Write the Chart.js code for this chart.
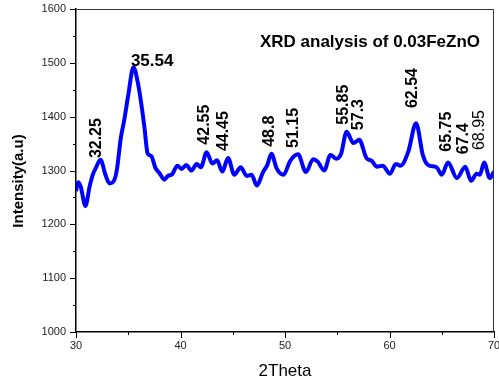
<!DOCTYPE html>
<html lang="es">
<head>
<meta charset="utf-8">
<title>XRD analysis of 0.03FeZnO</title>
<script src="https://cdn.jsdelivr.net/npm/chart.js@4.4.1/dist/chart.umd.min.js"></script>
<style>
    html, body { margin: 0; padding: 0; background: #fff; }
    #grafico { display: block; }
</style>
</head>
<body>
<canvas id="grafico" width="499" height="385"></canvas>
<script>
const THETA = [
    30.0, 30.2, 30.45, 30.9, 31.3, 31.6, 31.9, 32.35, 32.8, 33.2,
    33.6, 33.9, 34.3, 34.6, 35.0, 35.5, 35.9, 36.2, 36.55, 36.85,
    37.2, 37.6, 38.0, 38.45, 38.8, 39.2, 39.7, 40.1, 40.55, 41.05,
    41.55, 41.95, 42.5, 43.05, 43.5, 44.0, 44.55, 45.15, 45.75, 46.35,
    46.8, 47.3, 47.9, 48.3, 48.7, 49.2, 49.85, 50.5, 51.25, 52.0,
    52.7, 53.15, 53.75, 54.35, 54.9, 55.35, 55.9, 56.55, 57.1, 57.8,
    58.3, 58.8, 59.35, 60.05, 60.6, 61.05, 61.8, 62.54, 63.2, 63.7,
    64.5, 65.0, 65.6, 66.45, 67.25, 67.8, 68.35, 68.65, 69.05, 69.6,
    70.0
];

// Intensidad (a.u) para cada valor de 2Theta.
const INTENSIDAD = [
    1262, 1278, 1270, 1234, 1270, 1292, 1305, 1320, 1293, 1276,
    1280, 1300, 1362, 1392, 1440, 1492, 1465, 1430, 1380, 1332,
    1327, 1305, 1295, 1283, 1290, 1293, 1309, 1303, 1310, 1300,
    1312, 1306, 1334, 1313, 1319, 1298, 1323, 1292, 1306, 1290,
    1292, 1272, 1297, 1310, 1331, 1304, 1292, 1318, 1330, 1297,
    1321, 1316, 1300, 1329, 1322, 1330, 1372, 1351, 1357, 1323,
    1318, 1307, 1309, 1294, 1312, 1309, 1335, 1388, 1328, 1310,
    1306, 1292, 1315, 1286, 1307, 1281, 1294, 1292, 1315, 1286,
    1298
];

// Etiquetas verticales de los picos y la intensidad donde empieza cada texto.
const PICOS = ['32.25', '42.55', '44.45', '48.8', '51.15', '55.85', '57.3', '62.54', '65.75', '67.4', '68.95'];
const BASE_PICOS = [1323, 1348, 1336, 1344, 1342, 1385, 1375, 1416, 1335, 1330, 1338];

// Pico principal, con etiqueta horizontal.
const PICO_PRINCIPAL = '35.54';
const BASE_PRINCIPAL = 1494;

// Textos del gráfico.
const TITULO = 'XRD analysis of 0.03FeZnO';
const TITULO_X = '2Theta';
const TITULO_Y = 'Intensity(a.u)';
const ETIQUETA_FINA = '68.95';

const FUENTE = 'Arial, "Liberation Sans", sans-serif';

/*
*   Plugin para dibujar las marcas de los ejes, el marco y los textos de los picos.
*/
const anotaciones = {
    id: 'anotaciones',
    afterDraw(chart) {
        const { ctx, chartArea, scales: { x, y } } = chart;
        ctx.save();

        // Marco superior y derecho.
        ctx.strokeStyle = '#333';
        ctx.lineWidth = 1;
        ctx.beginPath();
        ctx.moveTo(chartArea.left, chartArea.top + 0.5);
        ctx.lineTo(chartArea.right - 0.5, chartArea.top + 0.5);
        ctx.lineTo(chartArea.right - 0.5, chartArea.bottom);
        ctx.stroke();

        // Marcas hacia afuera: largas en los valores con número, cortas en los intermedios.
        ctx.strokeStyle = '#000';
        ctx.beginPath();
        y.ticks.forEach(t => {
            const py = Math.round(y.getPixelForValue(t.value)) + 0.5;
            const largo = t.value % 100 === 0 ? 6 : 3;
            ctx.moveTo(chartArea.left - largo, py);
            ctx.lineTo(chartArea.left, py);
        });
        x.ticks.forEach(t => {
            const px = Math.round(x.getPixelForValue(t.value)) + 0.5;
            const largo = t.value % 10 === 0 ? 6 : 3;
            ctx.moveTo(px, chartArea.bottom);
            ctx.lineTo(px, chartArea.bottom + largo);
        });
        ctx.stroke();

        // Etiquetas verticales de los picos.
        ctx.fillStyle = '#000';
        ctx.textAlign = 'left';
        ctx.textBaseline = 'middle';
        PICOS.forEach((texto, i) => {
            const px = x.getPixelForValue(parseFloat(texto)) - 3;
            const py = y.getPixelForValue(BASE_PICOS[i]);
            ctx.save();
            ctx.translate(px, py);
            ctx.rotate(-Math.PI / 2);
            ctx.font = (texto === ETIQUETA_FINA ? '' : 'bold ') + '16px ' + FUENTE;
            ctx.fillText(texto, 0, 0);
            ctx.restore();
        });

        // Etiqueta horizontal del pico principal.
        ctx.font = 'bold 17px ' + FUENTE;
        ctx.textBaseline = 'alphabetic';
        ctx.fillText(PICO_PRINCIPAL, x.getPixelForValue(parseFloat(PICO_PRINCIPAL)) - 3, y.getPixelForValue(BASE_PRINCIPAL));

        // Título dentro del área del gráfico.
        ctx.textAlign = 'center';
        ctx.font = 'bold 17px ' + FUENTE;
        ctx.fillText(TITULO, chartArea.left + 294, chartArea.top + 38);

        // Título del eje Y.
        ctx.save();
        ctx.translate(19, chartArea.top + 172);
        ctx.rotate(-Math.PI / 2);
        ctx.textBaseline = 'middle';
        ctx.font = 'bold 15px ' + FUENTE;
        ctx.fillText(TITULO_Y, 0, 0);
        ctx.restore();

        ctx.restore();
    }
};

// Se crea el gráfico de línea con los datos del difractograma.
new Chart(document.getElementById('grafico'), {
    type: 'line',
    data: {
        datasets: [{
            data: THETA.map((t, i) => ({ x: t, y: INTENSIDAD[i] })),
            borderColor: 'rgb(0, 0, 255)',
            borderWidth: 4,
            pointRadius: 0,
            cubicInterpolationMode: 'monotone',
            fill: false
        }]
    },
    options: {
        responsive: false,
        animation: false,
        layout: { padding: { top: 9, right: 5, left: 0, bottom: 0 } },
        plugins: {
            legend: { display: false },
            tooltip: { enabled: false }
        },
        scales: {
            x: {
                type: 'linear',
                min: 30,
                max: 70,
                grid: { display: true, drawOnChartArea: false, drawTicks: false },
                border: { display: true, color: '#000', width: 1.5 },
                ticks: {
                    stepSize: 5,
                    autoSkip: false,
                    maxRotation: 0,
                    padding: 7,
                    color: '#222',
                    font: { family: FUENTE, size: 11 },
                    callback: v => v % 10 === 0 ? v : ''
                },
                title: {
                    display: true,
                    text: TITULO_X,
                    color: '#000',
                    font: { family: FUENTE, size: 17 },
                    padding: { top: 0, bottom: 3 }
                },
                afterFit: scale => {
                    scale.height = 53;
                    scale.paddingLeft = 0;
                    scale.paddingRight = 0;
                }
            },
            y: {
                min: 1000,
                max: 1600,
                grid: { display: true, drawOnChartArea: false, drawTicks: false },
                border: { display: true, color: '#000', width: 1.5 },
                ticks: {
                    stepSize: 50,
                    autoSkip: false,
                    padding: 10,
                    color: '#222',
                    font: { family: FUENTE, size: 11 },
                    callback: v => v % 100 === 0 ? v : ''
                },
                afterFit: scale => {
                    scale.width = 76;
                    scale.paddingTop = 0;
                    scale.paddingBottom = 0;
                }
            }
        }
    },
    plugins: [anotaciones]
});
</script>
</body>
</html>
